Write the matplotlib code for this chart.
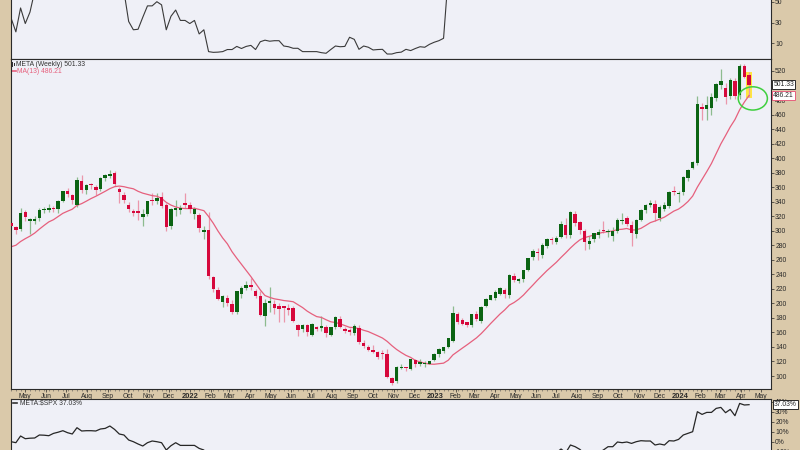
#!/usr/bin/env python3

"""
META weekly candlesticks with MA(13), a rank panel on top
and the META:$SPX relative line underneath.
"""

import numpy as np
import pandas as pd
import matplotlib
matplotlib.use("Agg")
import matplotlib.pyplot as plt
from matplotlib.patches import Ellipse, Rectangle

# ---- data (weekly, week of 2021-04-12 .. week of 2024-04-15) ----
week_start = "2021-04-12"

opens = [
  311, 305, 302, 326, 313, 314, 317, 328, 329, 331,
  330, 341, 355, 349, 336, 369, 356, 364, 360, 357,
  372, 376, 380, 358, 349, 335, 327, 327.5, 319, 323,
  342, 341, 347, 335, 307, 329, 328, 338, 336, 323,
  322, 298, 301, 236, 218, 202, 208, 199, 188, 213,
  221, 225, 217, 210, 182, 200, 199, 196, 196, 193,
  193, 170, 165, 170, 157, 167, 166, 168, 156, 167,
  178, 165, 163, 159, 166, 145, 140, 136, 133.5, 131,
  130, 97.5, 93, 111, 112, 110, 122, 116, 117, 117,
  122, 130, 135, 140, 148, 185.5, 177, 174, 170, 186,
  176, 197, 205, 208, 213, 219, 212, 238, 231, 234,
  246, 264, 271, 266, 279, 288, 285, 292, 308, 294,
  323, 312, 299, 282, 288, 294, 301, 298, 293, 299,
  313, 318, 308, 295, 315, 328, 335, 337, 318, 330,
  334, 355, 351, 354, 372, 387, 393, 470, 468, 469,
  483, 501, 496, 485, 506, 487, 527, 515,
]
highs = [
  314, 307, 331.8, 328, 318, 321, 331, 333, 337, 334,
  343, 355, 359, 351, 374, 377, 365, 366, 363, 374,
  378, 384.3, 382, 360, 353, 339, 330, 342, 330, 341,
  352, 352, 353, 338, 332, 343, 336, 352, 339, 333,
  325, 307, 326, 238, 222, 212, 212, 205, 217, 224,
  231, 235, 220, 217, 206, 223, 205, 200, 196, 199,
  196, 172, 172, 171, 173, 169, 183, 170, 168, 183,
  183, 168, 166, 171, 170, 149, 143, 143, 135, 136,
  137, 98, 114, 117, 113, 124, 123, 123, 120, 121,
  131, 138, 140, 153, 197, 188, 180, 175, 186, 190,
  197, 207, 212, 218, 222, 221, 241, 242, 235, 246,
  262, 275, 276, 283, 290, 291, 293, 313, 318, 327,
  327, 314, 302, 293, 297, 302, 313, 303, 305, 318,
  325, 321, 313, 316, 330, 337, 342, 342, 335, 340,
  355, 361, 355, 375, 385, 396, 485, 476, 486, 490,
  503, 523, 503, 510, 510, 529, 530, 518,
]
lows = [
  303, 295.5, 299, 313, 296, 309, 313, 325, 326, 326,
  325, 339, 346, 337, 333, 352, 351, 358, 349, 355,
  369, 372, 361, 338, 338, 326, 320, 315, 306, 320,
  335, 337, 332, 299, 302, 320, 323, 332, 325, 316,
  298, 289, 233, 216, 204, 195.4, 196, 185.8, 186, 207,
  218, 219, 207, 182, 169, 188, 186, 175, 175, 184,
  174, 155, 161, 155, 155, 162, 162, 154, 155, 165,
  166, 159, 157, 157, 144, 138, 134, 131, 124, 124,
  97, 88, 90, 109, 107, 108, 113, 114, 112, 116,
  121, 126, 131, 138, 147, 172, 170, 167, 168, 176,
  173, 195, 204, 205, 212, 207, 207, 230, 228, 230,
  244, 260, 260, 263, 276, 282, 282, 290, 290, 290,
  306, 296, 274, 275, 285, 290, 297, 292, 286, 297,
  309, 306, 279, 290, 313, 324, 333, 313, 313, 327,
  331, 349, 340, 349, 368, 385, 390, 452, 453, 460,
  478, 495, 475, 482, 482, 482, 510, 484,
]
closes = [
  306.2, 301.1, 325.1, 319.1, 315.9, 316.2, 328.7, 330.4, 331.3, 329.7,
  341.4, 354.7, 350.4, 341.7, 369.8, 356.3, 363.5, 362.6, 356, 372.6,
  376.3, 378.7, 364.7, 353, 343, 330, 324.8, 324.6, 323, 341.1,
  340.9, 345.3, 334, 305, 329.8, 331.5, 332, 335.5, 330, 330,
  303.2, 301.7, 237.1, 219.6, 206.2, 209.5, 200.1, 187.6, 216.5, 221.8,
  224.9, 222.3, 210.2, 184.1, 200.5, 203.8, 194, 192, 193, 190.8,
  175.6, 163.7, 170.2, 160, 171, 164.7, 169.3, 159.1, 167.1, 180.9,
  168, 161.8, 160.3, 169.2, 146.3, 141, 135.7, 133.5, 126.8, 130,
  99.2, 90.8, 113, 112.1, 111.4, 123.5, 115.9, 119.4, 118, 120.3,
  130, 137, 139.4, 151.7, 186.5, 174.2, 172, 170.4, 185.3, 178,
  195.6, 206, 211.9, 216.1, 221.5, 212.9, 238.6, 232.8, 233.8, 245.6,
  262, 272.6, 268.8, 281, 288.7, 287, 290.5, 308.9, 294.3, 325.5,
  310.7, 301.6, 285.1, 285.5, 296.4, 297.9, 300.3, 299.1, 300.2, 315.4,
  314.7, 308.7, 296.7, 314.6, 328.8, 335, 338.2, 324.8, 332.5, 334.9,
  353.4, 354, 352, 374.5, 383.5, 394.1, 475, 468.1, 473.3, 484,
  502.3, 505.95, 484.1, 507.8, 485.6, 527.3, 511.9, 501.33,
]
# 12 weekly closes before the window, needed to start the MA(13)
prior_closes = [274.5, 258.3, 268.1, 270.5, 261.6, 257.6, 264.3, 268.4, 290.1, 283.0, 298.7, 312.5]

# top panel (values above the visible area are clipped in the original)
rank = [
  34, 21, 44, 29, 40, 60, 75, 75, 75, 75,
  75, 75, 75, 75, 75, 75, 75, 75, 75, 75,
  75, 75, 75, 75, 60, 31, 23, 23.5, 35, 46,
  46, 50, 47, 23, 36, 42, 32, 32, 29, 32,
  19, 23, 2, 1.3, 1.5, 2, 4, 4, 7, 5,
  7, 8, 4, 11.5, 13, 12, 12.5, 12.5, 7.4, 6.7,
  5.2, 5.2, 2, 2, 2, 2, 1, 0.4, 4, 7.4,
  6.7, 7, 15.8, 13.8, 4.2, 7.4, 6.2, 3.6, 4, 4.2,
  -0.3, -0.3, 1, 1.5, 4.2, 3, 5, 6.7, 6.2, 9,
  11, 12.5, 14.8, 75, 75, 75, 75, 75, 75, 75,
] + [75] * 58

# META:$SPX relative change in % (the 2022 dip runs below the picture)
rel_spx = [
  0, -1, 5.7, 3, 3.5, 3.7, 6.7, 6.5, 6, 8.3,
  9.5, 11, 9, 7.7, 14, 10.7, 11, 11, 10.7, 12.7,
  13.3, 15.7, 12.3, 7.7, 6.7, 1.7, 0, -2.3, -4.3, -1,
  0.7, 0, -1, -8.3, -4, -1, -3.7, -3.7, -3.7, -3.7,
  -6.7, -8.3, -24, -30, -33, -31, -34, -36, -32, -32,
  -32, -31, -33, -38, -32, -30, -31, -30, -32, -34,
  -36, -38, -38, -39, -38, -40, -41, -44, -42, -38,
  -41, -41, -40, -38, -43, -44, -44, -47, -48, -49,
  -62, -64, -58, -59, -61, -58, -59, -58, -57, -57,
  -56, -55, -55, -52, -43, -46, -46, -45, -43, -44,
  -40, -38, -38, -37, -36, -38, -32, -33, -33, -31,
  -27, -25, -26, -24, -22, -22, -11, -7.3, -11, -3.3,
  -5, -7.7, -12, -13, -11, -11, -8.3, -5, -5, -0.3,
  -1, -0.3, -1.7, 0, 1, 0.7, 0.7, -3.3, -2.3, -3.3,
  1, 0.7, 2.3, 6.7, 8.3, 10, 30, 27.3, 29.3, 29.3,
  33.3, 34.3, 29, 32.3, 26, 38.3, 36.7, 37.03,
]

# 500 sits fully under the last-price box in the original, so it is left out
price_ticks = [p for p in range(100, 521, 20) if p != 500]
rank_ticks = [10, 30, 50]
rel_ticks = [-10, 0, 10, 20, 30, 40]

TAN = "#dac9aa"
PANEL = "#eff0f7"
RED = "#d6083c"
RED_WICK = "#eb97ab"
GREEN = "#0b6413"
GREEN_WICK = "#8dbb8f"
MA_COLOR = "#e6607d"
INK = "#2a2a2a"
FONT = "Liberation Sans"
FS = 4.9

W, H = 800, 450


def px_axes(fig, left, top, right, bottom):
  return fig.add_axes([left / W, 1 - bottom / H, (right - left) / W, (bottom - top) / H])


def style_panel(ax, ticks, fmt):
  ax.set_facecolor(PANEL)
  for s in ax.spines.values():
    s.set_color(INK)
    s.set_linewidth(0.8)
  ax.yaxis.tick_right()
  ax.set_yticks(ticks)
  ax.set_yticklabels([fmt.format(t) for t in ticks], fontsize=FS, family=FONT, color=INK)
  ax.tick_params(axis="y", length=2, width=0.5, pad=1, colors=INK)
  ax.tick_params(axis="x", bottom=False, labelbottom=False)


def plot_candles(ax, o, h, l, c):
  idx = np.arange(len(c))
  up = c >= o
  ax.vlines(idx, l, h, colors=np.where(up, GREEN_WICK, RED_WICK), lw=0.9, zorder=2)
  body = np.maximum(np.abs(c - o), 0.9)
  ax.bar(idx, body, bottom=np.minimum(o, c), width=0.74,
         color=np.where(up, GREEN, RED), lw=0, zorder=3)


def price_box(ax, value, edge):
  ax.text(1.003, value, "{:.2f}".format(value), transform=ax.get_yaxis_transform(),
          fontsize=FS, family=FONT, color=INK, va="center", ha="left", zorder=10,
          clip_on=False,
          bbox=dict(boxstyle="square,pad=0.18", fc="white", ec=edge, lw=0.7))


if __name__ == "__main__":

  o = np.array(opens, float)
  h = np.array(highs, float)
  l = np.array(lows, float)
  c = np.array(closes, float)
  n = len(c)
  idx = np.arange(n)
  weeks = pd.date_range(week_start, periods=n, freq="7D")
  ma13 = pd.Series(prior_closes + closes).rolling(13).mean().to_numpy()[12:]

  fig = plt.figure(figsize=(W / 100, H / 100), dpi=100, facecolor=TAN)
  xlim = (-0.1, 161.67)

  # ---- top rank panel ----
  ax_top = px_axes(fig, 10.7, -30, 771, 59)
  style_panel(ax_top, rank_ticks, "{}")
  ax_top.plot(idx, rank, color="#3a3a3a", lw=0.8)
  ax_top.set_xlim(*xlim)
  ax_top.set_ylim(-5.1, 80.5)

  # ---- main price panel ----
  ax = px_axes(fig, 10.7, 59, 771, 389)
  style_panel(ax, price_ticks, "{}")
  ax.set_xlim(*xlim)
  ax.set_ylim(82.1, 536.5)

  last = n - 1
  ax.add_patch(Rectangle((last - 0.55, l[last] - 1), 1.1, h[last] - l[last] + 2,
                         color="#ffe640", lw=0, zorder=1.5))
  plot_candles(ax, o, h, l, c)
  ax.plot(idx, ma13, color=MA_COLOR, lw=0.9, zorder=2.5)
  ax.add_patch(Ellipse((last + 0.8, ma13[-1] - 4), width=6.2, height=32, fill=False,
                       ec="#3fcf3f", lw=1.1, zorder=6))

  price_box(ax, c[-1], INK)
  price_box(ax, ma13[-1], MA_COLOR)

  # legend lines, top-left
  ax.add_patch(Rectangle((0.0016, 0.977), 0.0018, 0.013, transform=ax.transAxes,
                         color="#333333", lw=0, zorder=7))
  ax.add_patch(Rectangle((0.0040, 0.979), 0.0018, 0.010, transform=ax.transAxes,
                         color="#333333", lw=0, zorder=7))
  ax.text(0.0068, 0.984, "META (Weekly) {:.2f}".format(c[-1]), transform=ax.transAxes,
          fontsize=FS, family=FONT, color="#333333", va="center", ha="left")
  ax.plot([0.0015, 0.0068], [0.9636, 0.9636], transform=ax.transAxes, color=MA_COLOR, lw=1.2)
  ax.text(0.0085, 0.9636, "MA(13) {:.2f}".format(ma13[-1]), transform=ax.transAxes,
          fontsize=FS, family=FONT, color=MA_COLOR, va="center", ha="left")

  # month labels in the strip under the price panel
  months = pd.date_range("2021-05-01", "2024-05-01", freq="MS")
  month_pos = [((m - weeks[0]).days + 2) / 7 for m in months]
  month_lab = [str(m.year) if m.month == 1 else m.strftime("%b") for m in months]
  ax.set_xticks(month_pos)
  ax.set_xticklabels(month_lab, fontsize=FS, family=FONT, color=INK)
  ax.set_xticks(idx, minor=True)
  ax.tick_params(axis="x", which="major", bottom=True, labelbottom=True,
                 length=2, width=0.5, pad=0.6, colors=INK)
  ax.tick_params(axis="x", which="minor", bottom=True, length=1.2, width=0.4, colors="#555555")
  for t in ax.get_xticklabels():
    if t.get_text().isdigit():
      t.set_fontweight("bold")
      t.set_fontsize(FS + 0.5)

  # ---- bottom relative panel ----
  ax_rel = px_axes(fig, 10.7, 399, 771, 500)
  style_panel(ax_rel, rel_ticks, "{}%")
  ax_rel.plot(idx, rel_spx, color="#262626", lw=0.9)
  ax_rel.set_xlim(*xlim)
  ax_rel.set_ylim(-58.3, 42.7)
  ax_rel.plot([0.0025, 0.0085], [0.957, 0.957], transform=ax_rel.transAxes, color="#333333", lw=1.2)
  ax_rel.text(0.0122, 0.957, "META:$SPX {:.2f}%".format(rel_spx[-1]), transform=ax_rel.transAxes,
              fontsize=FS, family=FONT, color="#333333", va="center", ha="left")
  ax_rel.text(1.004, rel_spx[-1], "{:.2f}%".format(rel_spx[-1]), transform=ax_rel.get_yaxis_transform(),
              fontsize=FS, family=FONT, color=INK, va="center", ha="left", zorder=10, clip_on=False,
              bbox=dict(boxstyle="square,pad=0.18", fc="white", ec=INK, lw=0.7))

  fig.savefig("out.png", dpi=100, facecolor=TAN)
